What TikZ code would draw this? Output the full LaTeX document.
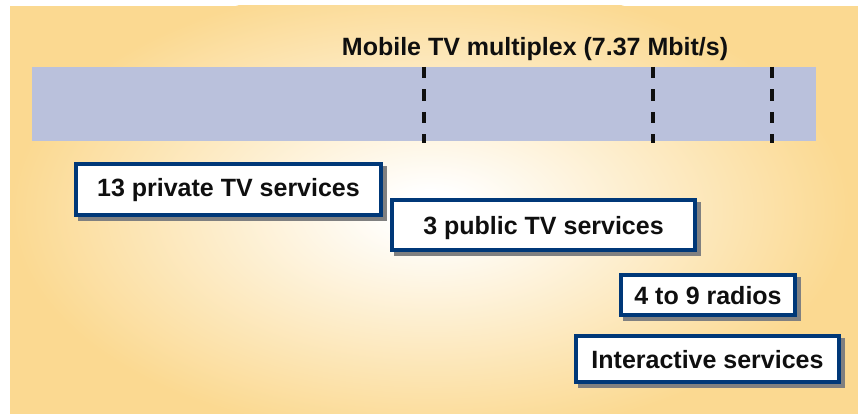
\documentclass[tikz,border=0pt]{standalone}
\usepackage{fontspec}
\setmainfont{Liberation Sans}
\usetikzlibrary{calc}
\definecolor{bgorange}{RGB}{251,217,145}
\definecolor{bandblue}{RGB}{186,193,220}
\definecolor{boxnavy}{RGB}{0,56,120}
\definecolor{shadowgray}{RGB}{128,128,128}
\definecolor{txt}{RGB}{15,15,15}
\pgfdeclareradialshading{glow}{\pgfpoint{0bp}{0bp}}{color(0bp)=(white); color(2bp)=(white); color(25bp)=(bgorange); color(50bp)=(bgorange)}
\pgfdeclarelayer{bglayer}
\pgfdeclarelayer{shadowlayer}
\pgfsetlayers{bglayer,shadowlayer,main}
\begin{document}
\begin{tikzpicture}[x=1pt,y=-1pt,
  svc/.style={draw=boxnavy, line width=4pt, fill=white, inner sep=0pt, outer sep=0pt,
    text height=18pt, text depth=0pt, font=\fontsize{25}{30}\selectfont\bfseries, text=txt},
  divider/.style={draw=txt, line width=4pt, dash pattern=on 11.5pt off 11pt}]
\useasboundingbox (0,0) rectangle (858,414);
\begin{pgfonlayer}{bglayer}
  \fill[bgorange] (10,6) rectangle (858,414);
  \begin{scope}
    \clip (10,6) rectangle (858,414);
    \shade[shading=glow] (430,210) ellipse [x radius=420pt, y radius=230pt];
  \end{scope}
  \node[fill=bandblue, minimum width=784pt, minimum height=74pt, inner sep=0pt, outer sep=0pt, anchor=north west] (band) at (32,67) {};
\end{pgfonlayer}

\node[anchor=base, font=\fontsize{25}{30}\selectfont\bfseries, text=txt, inner sep=0pt] (title) at (535,56) {Mobile TV multiplex (7.37 Mbit/s)};

\coordinate (d1t) at (424,67);   \coordinate (d1b) at (424,143.5);
\coordinate (d2t) at (652.5,67); \coordinate (d2b) at (652.5,143.5);
\coordinate (d3t) at (771.5,67); \coordinate (d3b) at (771.5,143.5);
\draw[divider] (d1t) -- (d1b);
\draw[divider] (d2t) -- (d2b);
\draw[divider] (d3t) -- (d3b);

\node[svc, minimum width=305pt, minimum height=51pt] (private) at (228.5,189.5) {\raisebox{2pt}{13 private TV services}};
\node[svc, minimum width=303pt, minimum height=50pt] (public) at (543.5,225) {3 public TV services};
\node[svc, minimum width=174pt, minimum height=40pt] (radios) at (708,295) {4 to 9 radios};
\node[svc, minimum width=263pt, minimum height=46pt] (interactive) at (707.5,359) {Interactive services};

\begin{pgfonlayer}{shadowlayer}
  \foreach \n in {private,public,radios,interactive}
    \fill[shadowgray] ($(\n.north west)+(2,2)$) rectangle ($(\n.south east)+(6,6)$);
\end{pgfonlayer}
\end{tikzpicture}
\end{document}
